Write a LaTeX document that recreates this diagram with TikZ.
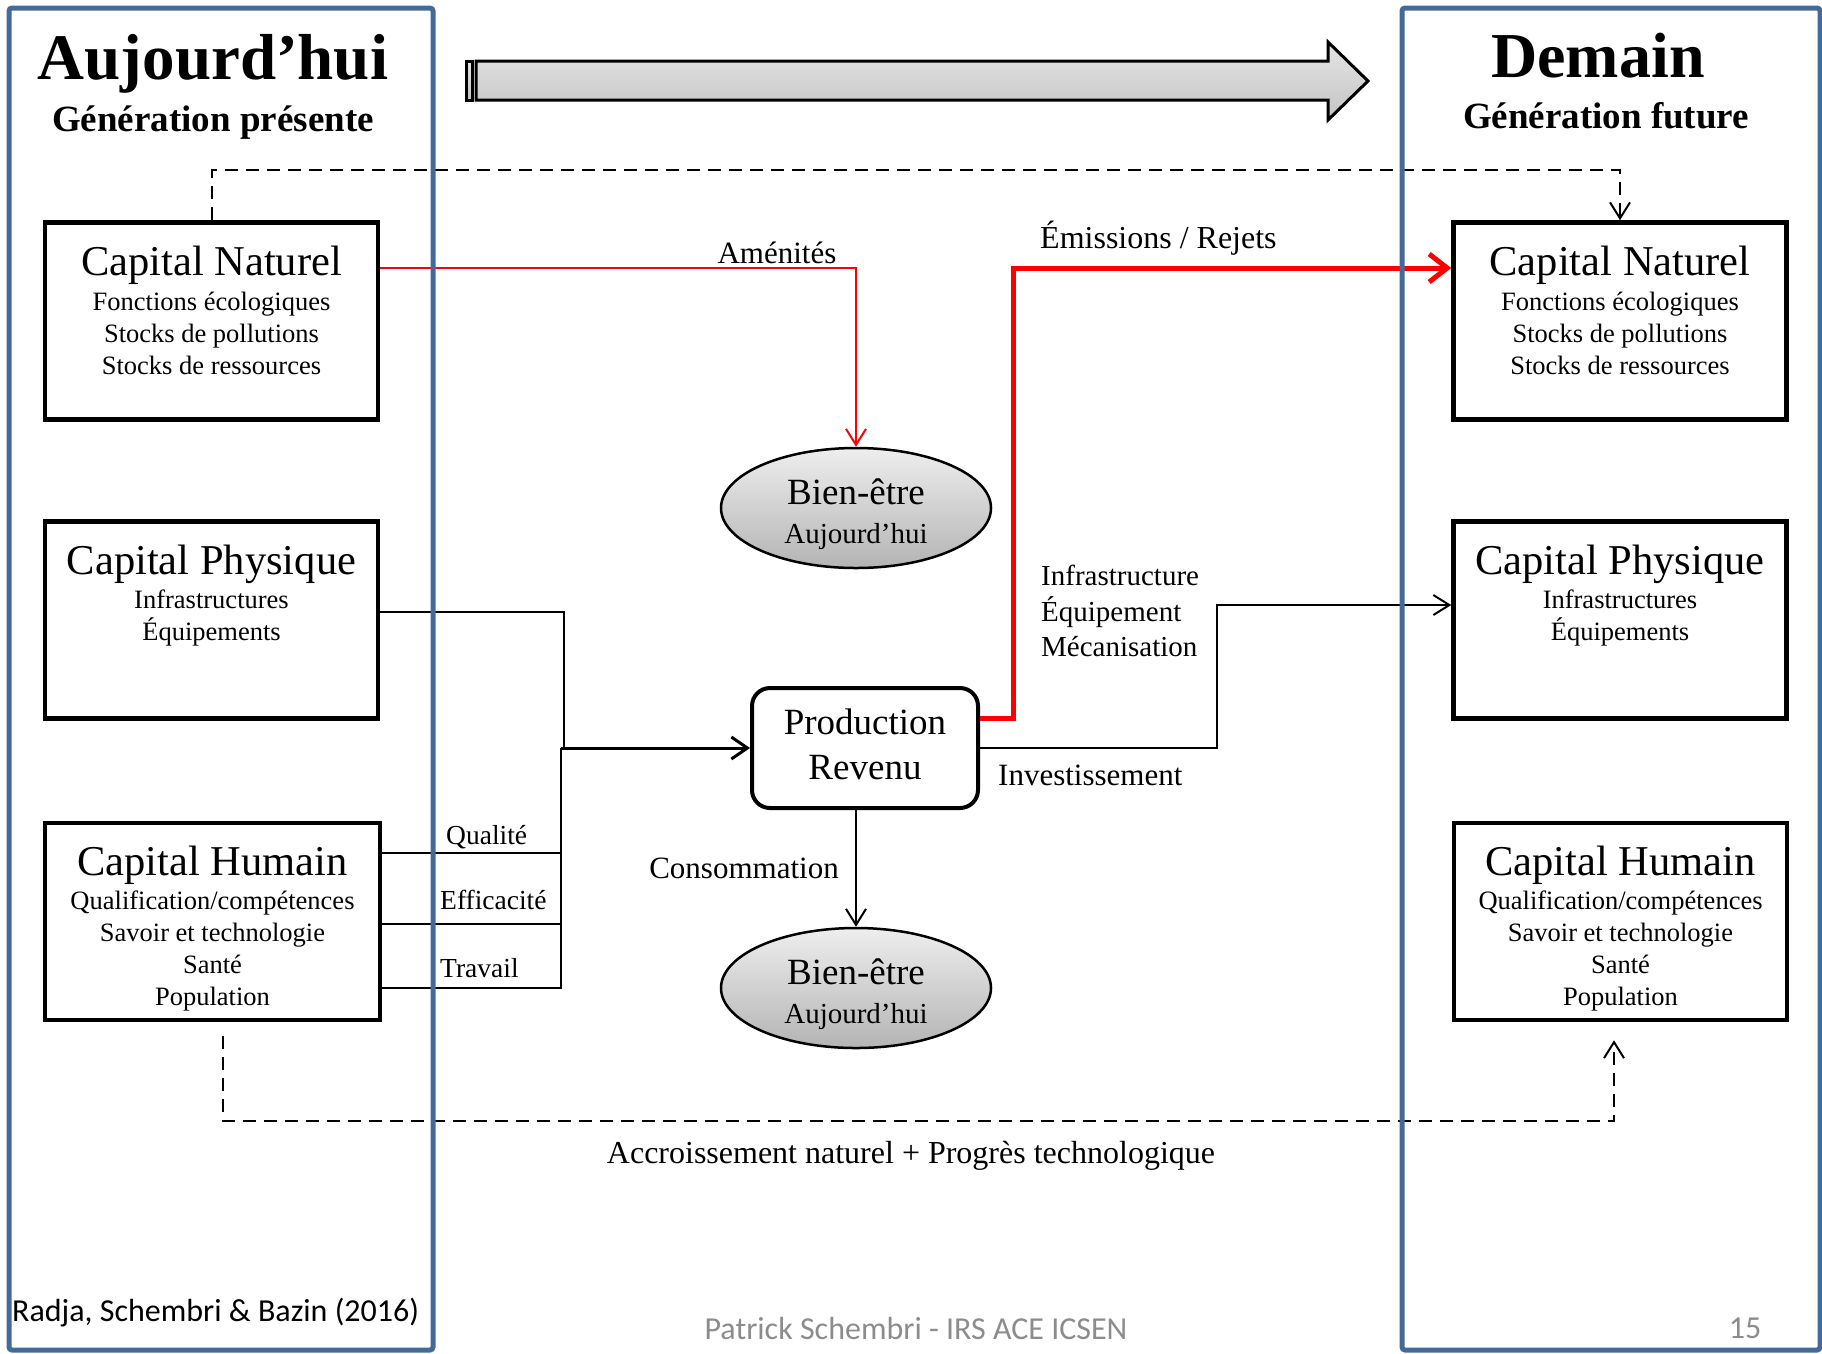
\documentclass[tikz,border=0pt]{standalone}
\usepackage{fontspec}
\setmainfont{Liberation Serif}
\newfontfamily\footfont{Carlito}
\usetikzlibrary{arrows.meta,calc,shapes.geometric}

\definecolor{panelblue}{RGB}{70,106,152}
\definecolor{footgray}{RGB}{140,140,140}
\definecolor{flowred}{RGB}{255,0,0}
\definecolor{ellTop}{RGB}{238,238,238}
\definecolor{ellBot}{RGB}{180,180,180}
\definecolor{arrTop}{RGB}{228,228,228}
\definecolor{arrBot}{RGB}{196,196,196}

\newcommand{\fsz}[2]{\fontsize{#1}{#2}\selectfont}

\begin{document}
\begin{tikzpicture}[x=1pt,y=-1pt,
  capbox/.style={draw,line width=4.5pt,minimum width=333pt,minimum height=197pt,inner sep=0pt},
  captitle/.style={font=\fsz{42.5}{48},inner sep=0pt},
  capsub/.style={font=\fsz{26.5}{32},align=center,inner sep=0pt},
  wellbeing/.style={ellipse,draw,line width=2.5pt,minimum width=270pt,minimum height=120pt,
    inner sep=0pt,top color=ellTop,bottom color=ellBot},
  welltext/.style={inner sep=0pt,align=center,font=\fsz{29}{39}},
  prodbox/.style={draw,line width=4pt,rounded corners=18pt,minimum width=226pt,minimum height=120pt,
    inner sep=0pt},
  prodtext/.style={inner sep=0pt,align=center,font=\fsz{37}{45}},
  flow/.style={line width=2pt},
  vtip/.style={-{Straight Barb[length=16pt,width=20pt]}},
  lbl/.style={inner sep=0pt,font=\fsz{31}{36}},
  smalllbl/.style={inner sep=0pt,font=\fsz{27.5}{32}},
  linkdash/.style={line width=2pt,dash pattern=on 13pt off 8pt},
  panel/.style={draw=panelblue,line width=5pt,rounded corners=3pt},
]
\useasboundingbox (0,0) rectangle (1822,1353);

% headings
\node[font=\bfseries\fsz{65}{70},inner sep=0pt] (today) at (213,64) {Aujourd’hui};
\node[font=\bfseries\fsz{37}{42},inner sep=0pt] (todaysub) at (213,122.5) {Génération présente};
\node[font=\bfseries\fsz{64}{70},inner sep=0pt] (tomorrow) at (1598,56) {Demain};
\node[font=\bfseries\fsz{37}{42},inner sep=0pt] (tomorrowsub) at (1606,116) {Génération future};

% time arrow
\fill[top color=arrTop,bottom color=arrBot] (466,61) rectangle (472,100);
\draw[line width=3pt] (466,61) rectangle (472,100);
\fill[top color=arrTop,bottom color=arrBot]
  (476,61) -- (1328,61) -- (1328,42) -- (1368,81) -- (1328,120) -- (1328,100) -- (476,100) -- cycle;
\draw[line width=3pt,line join=miter]
  (476,61) -- (1328,61) -- (1328,42) -- (1368,81) -- (1328,120) -- (1328,100) -- (476,100) -- cycle;

% capital stocks, present generation
\node[capbox] (cnL) at (211.5,321) {};
\node[captitle] (cnLt) at (211.5,265) {Capital Naturel};
\node[capsub] (cnLs) at (211.5,333) {Fonctions écologiques\\Stocks de pollutions\\Stocks de ressources};

\node[capbox] (cpL) at (211.5,620) {};
\node[captitle] (cpLt) at (211.5,564) {Capital Physique};
\node[capsub] (cpLs) at (211.5,618) {Infrastructures\\Équipements};

\node[capbox,minimum width=335pt] (chL) at (212.5,921.5) {};
\node[captitle] (chLt) at (212.5,865) {Capital Humain};
\node[capsub] (chLs) at (212.5,951) {Qualification/compétences\\Savoir et technologie\\Santé\\Population};

% capital stocks, future generation
\node[capbox] (cnR) at (1620,321) {};
\node[captitle] (cnRt) at (1620,265) {Capital Naturel};
\node[capsub] (cnRs) at (1620,333) {Fonctions écologiques\\Stocks de pollutions\\Stocks de ressources};

\node[capbox] (cpR) at (1620,620) {};
\node[captitle] (cpRt) at (1620,564) {Capital Physique};
\node[capsub] (cpRs) at (1620,618) {Infrastructures\\Équipements};

\node[capbox,minimum width=333pt] (chR) at (1620.5,921.5) {};
\node[captitle] (chRt) at (1620.5,865) {Capital Humain};
\node[capsub] (chRs) at (1620.5,951) {Qualification/compétences\\Savoir et technologie\\Santé\\Population};

% economy
\node[wellbeing] (bwT) at (856,508) {};
\node[welltext] (bwTt) at (856,514) {{\fsz{37}{39}\selectfont Bien-être}\\Aujourd’hui};
\node[prodbox] (prod) at (865,748) {};
\node[prodtext] (prodt) at (865,744.5) {Production\\Revenu};
\node[wellbeing] (bwB) at (856,988) {};
\node[welltext] (bwBt) at (856,994) {{\fsz{37}{39}\selectfont Bien-être}\\Aujourd’hui};

% intergenerational transmission (dashed)
\draw[linkdash,vtip] (cnL.north) -- ++(0,-50) -| (cnR.north);
\draw[linkdash,vtip] ($(chL.south)+(10,14)$) -- ++(0,85) -| ($(chR.south)+(-6.5,18)$);

% amenities
\draw[flowred,flow,vtip] ($(cnL.east)+(0,-53)$) -| (bwT.north);

% emissions
\draw[flowred,line width=5pt,-{Straight Barb[length=18pt,width=28pt]}]
  ($(prod.east)+(0,-30)$) -- ++(33,0) |- ($(cnR.west)+(0,-53)$);

% investment
\draw[flow,vtip] (prod.east) -- ++(237,0) |- ($(cpR.west)+(0,-15)$);

% inputs to production
\coordinate (merge) at ($(prod.west)+(-189,0)$);
\draw[flow] ($(cpL.east)+(0,-8)$) -| ($(merge)+(3,0)$);
\coordinate (hq) at ($(chL.east)+(0,-68.5)$);
\coordinate (he) at ($(chL.east)+(0,2.5)$);
\coordinate (ht) at ($(chL.east)+(0,66.5)$);
\draw[flow] (hq) -- (hq -| merge);
\draw[flow] (he) -- (he -| merge);
\draw[flow] (ht) -| (merge);
\draw[line width=3pt,-{Straight Barb[length=16pt,width=22pt]}] (merge) -- (prod.west);

% consumption
\draw[flow,vtip] (prod.south -| bwB.north) -- (bwB.north);

% flow labels
\node[lbl] (lamen) at (777,253) {Aménités};
\node[lbl,anchor=west,font=\fsz{32}{36}] (lemis) at (1040,238) {Émissions / Rejets};
\node[inner sep=0pt,font=\fsz{29}{35.5},align=left,anchor=west] (linfra) at (1041,611)
  {Infrastructure\\Équipement\\Mécanisation};
\node[lbl,anchor=west] (linv) at (998,775) {Investissement};
\node[lbl] (lcons) at (744,868) {Consommation};
\node[smalllbl,anchor=west] (lqual) at (446,837) {Qualité};
\node[smalllbl,anchor=west] (leff) at (440,900) {Efficacité};
\node[smalllbl,anchor=west] (ltrav) at (440,968) {Travail};
\node[inner sep=0pt,font=\fsz{32}{36}] (lgrowth) at (911,1156) {Accroissement naturel + Progrès technologique};

% generation panels
\draw[panel] (9,8) rectangle (433,1350);
\draw[panel] (1402,8) rectangle (1820,1350);

% footer
\node[inner sep=0pt,anchor=west,font=\footfont\fsz{32}{38}] (cite) at (12,1313) {Radja, Schembri \& Bazin (2016)};
\node[inner sep=0pt,text=footgray,font=\footfont\fsz{32}{38}] (author) at (916,1328) {Patrick Schembri - IRS ACE ICSEN};
\node[inner sep=0pt,text=footgray,font=\footfont\fsz{32}{38}] (page) at (1745,1328) {15};
\end{tikzpicture}
\end{document}
